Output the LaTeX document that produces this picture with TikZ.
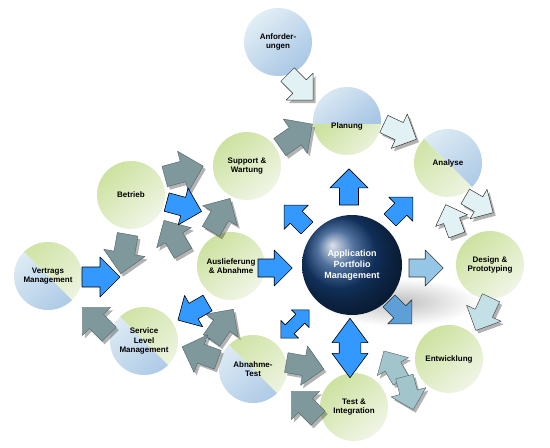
\documentclass[tikz,border=0pt]{standalone}
\usepackage{fontspec}
\setmainfont{Liberation Sans}
\usetikzlibrary{calc}
\definecolor{cg1}{HTML}{CDE2A0}
\definecolor{cg2}{HTML}{F0F5E6}
\definecolor{cb1}{HTML}{E2EEF5}
\definecolor{cb2}{HTML}{A9C7E5}
\definecolor{agray}{HTML}{7E989B}
\definecolor{agrayd}{HTML}{4F6366}
\definecolor{acyan}{HTML}{E1F1F4}
\definecolor{acyanb}{HTML}{C2E0E5}
\definecolor{ateal}{HTML}{A2C5CB}
\definecolor{ablue}{HTML}{3399FF}
\definecolor{alight}{HTML}{96C6E6}
\definecolor{amid}{HTML}{5E9FD8}
\definecolor{sph}{HTML}{17437E}
\tikzset{
  greenshade/.style={top color=cg1,bottom color=cg2,shading angle=40},
  blueshade/.style={top color=cb1,bottom color=cb2,shading angle=40},
  grayarr/.style={fill=agray,draw=agrayd,line width=0.4pt,line join=round},
  cyanarr/.style={fill=acyan,draw=black!80,line width=0.5pt,line join=round},
  cyanbarr/.style={fill=acyanb,draw=black!70,line width=0.5pt,line join=round},
  tealarr/.style={fill=ateal,draw=agrayd,line width=0.4pt,line join=round},
  bluearr/.style={fill=ablue,draw=black,line width=0.6pt,line join=round},
  lightarr/.style={fill=alight,draw=black!80,line width=0.6pt,line join=round},
  midarr/.style={fill=amid,draw=black!80,line width=0.6pt,line join=round},
  lbl/.style={font=\fontsize{8}{9.6}\selectfont\bfseries,align=center,text=black,inner sep=0pt},
  ring/.style={circle,minimum size=68pt,inner sep=0pt}
}
% single block arrow with shadow: x y angle h style
\newcommand\sarr[5]{%
  \fill[black,opacity=.3,shift={(#1+2.5,#2+3)},rotate=#3,scale=#4]
    (-1.0,-0.5) -- (-0.1,-0.5) -- (-0.1,-1) -- (0.9,0) -- (-0.1,1) -- (-0.1,0.5) -- (-1.0,0.5) -- cycle;
  \path[#5,shift={(#1,#2)},rotate=#3,scale=#4]
    (-1.0,-0.5) -- (-0.1,-0.5) -- (-0.1,-1) -- (0.9,0) -- (-0.1,1) -- (-0.1,0.5) -- (-1.0,0.5) -- cycle;}
% single block arrow without shadow
\newcommand\narr[5]{%
  \path[#5,shift={(#1,#2)},rotate=#3,scale=#4]
    (-1.0,-0.5) -- (-0.1,-0.5) -- (-0.1,-1) -- (0.9,0) -- (-0.1,1) -- (-0.1,0.5) -- (-1.0,0.5) -- cycle;}
% double arrow, long heads
\newcommand\darrlong[5]{%
  \path[#5,shift={(#1,#2)},rotate=#3,scale=#4]
    (-1.65,0) -- (-0.3,-1) -- (-0.3,-0.6) -- (0.3,-0.6) -- (0.3,-1) -- (1.65,0) -- (0.3,1) -- (0.3,0.6) -- (-0.3,0.6) -- (-0.3,1) -- cycle;}
% double arrow, square heads
\newcommand\darrsq[5]{%
  \path[#5,shift={(#1,#2)},rotate=#3,scale=#4]
    (-1.6,0) -- (-0.6,-1) -- (-0.6,-0.5) -- (0.6,-0.5) -- (0.6,-1) -- (1.6,0) -- (0.6,1) -- (0.6,0.5) -- (-0.6,0.5) -- (-0.6,1) -- cycle;}
% green circle: name x y
\newcommand\gcirc[3]{%
  \shade[greenshade] (#2,#3) circle[radius=34pt];
  \node[ring] (#1) at (#2,#3) {};}
% split circle along NW-SE line: name x y upper-right-style lower-left-style
\newcommand\scirc[5]{%
  \begin{scope}
    \clip (#2,#3) circle[radius=34pt];
    \shade[#4] (#2-40,#3-40) -- (#2+40,#3-40) -- (#2+40,#3+40) -- cycle;
    \shade[#5] (#2-40,#3-40) -- (#2-40,#3+40) -- (#2+40,#3+40) -- cycle;
  \end{scope}
  \node[ring] (#1) at (#2,#3) {};}
\begin{document}
\begin{tikzpicture}[x=1pt,y=-1pt]
\fill[white] (0,0) rectangle (550,448);
\useasboundingbox (0,0) rectangle (550,448);
% soft shadow of the sphere
\shade[inner color=black!25,outer color=white] (398,302) ellipse[x radius=80pt,y radius=24pt];
% circles
\shade[blueshade] (278,42) circle[radius=34pt];
\node[ring] (anf) at (278,42) {};
\begin{scope}
  \clip (347,121) circle[radius=34pt];
  \shade[blueshade] (307,81) rectangle (387,124);
  \shade[greenshade] (307,124) rectangle (387,161);
\end{scope}
\node[ring] (plan) at (347,121) {};
\scirc{ana}{448}{163}{blueshade}{greenshade}
\gcirc{des}{490}{265}
\gcirc{ent}{449}{359}
\gcirc{tst}{354}{407}
\scirc{abt}{253}{369}{greenshade}{blueshade}
\scirc{slm}{144}{341}{greenshade}{blueshade}
\scirc{vtm}{48}{276}{greenshade}{blueshade}
\gcirc{aus}{231}{266}
\gcirc{bet}{131}{195}
\gcirc{sup}{247}{166}
% sphere
\shade[ball color=sph] (352,265) circle[radius=50pt];
\node[ring,minimum size=100pt] (apm) at (352,265) {};
% cyan / teal arrows (process chain)
\sarr{301}{88}{-45}{19}{cyanarr}
\sarr{401}{132}{-25}{19}{cyanarr}
\sarr{451}{219}{110}{17}{cyanarr}
\sarr{480}{205}{-30}{17}{cyanarr}
\sarr{483}{315}{-115}{19}{cyanbarr}
\sarr{392}{365}{120}{18}{tealarr}
\sarr{409}{394}{-75}{18}{tealarr}
% gray arrows
\sarr{306}{366}{-10}{20}{grayarr}
\sarr{304}{404}{135}{20}{grayarr}
\sarr{223}{324}{55}{20}{grayarr}
\sarr{199}{353}{160}{20}{grayarr}
\sarr{95}{320}{135}{20}{grayarr}
\sarr{124}{255}{-100}{21}{grayarr}
\sarr{185}{171}{15}{21}{grayarr}
\sarr{221}{214}{60}{20}{grayarr}
\sarr{173}{236}{120}{20}{grayarr}
\sarr{297}{135}{35}{21}{grayarr}
% blue arrows
\narr{102}{277}{0}{20}{bluearr}
\narr{185}{207}{-15}{19}{bluearr}
\narr{192}{312}{-150}{18}{bluearr}
\narr{349}{186}{90}{19}{bluearr}
\narr{402}{208}{45}{17}{bluearr}
\narr{427}{268}{0}{18}{lightarr}
\narr{401}{313}{-45}{17}{midarr}
\narr{276}{268}{0}{18}{bluearr}
\narr{295}{216}{135}{17}{bluearr}
\darrlong{350}{348}{90}{18}{bluearr}
\darrsq{295}{324}{45}{12.5}{bluearr}
% labels
\node[lbl] (tanf) at (anf) {Anforder-\\ungen};
\node[lbl] (tplan) at (347,126) {Planung};
\node[lbl] (tana) at (ana) {Analyse};
\node[lbl] (tdes) at (des) {Design \&\\Prototyping};
\node[lbl] (tent) at (ent) {Entwicklung};
\node[lbl] (ttst) at (tst) {Test \&\\Integration};
\node[lbl] (tabt) at (abt) {Abnahme-\\Test};
\node[lbl] (tslm) at (slm) {Service\\Level\\Management};
\node[lbl] (tvtm) at (vtm) {Vertrags\\Management};
\node[lbl] (taus) at (aus) {Auslieferung\\\& Abnahme};
\node[lbl] (tbet) at (bet) {Betrieb};
\node[lbl] (tsup) at (sup) {Support \&\\Wartung};
\node[lbl,text=white,font=\fontsize{9}{11}\selectfont\bfseries] (tapm) at (apm) {Application\\Portfolio\\Management};
\end{tikzpicture}
\end{document}
